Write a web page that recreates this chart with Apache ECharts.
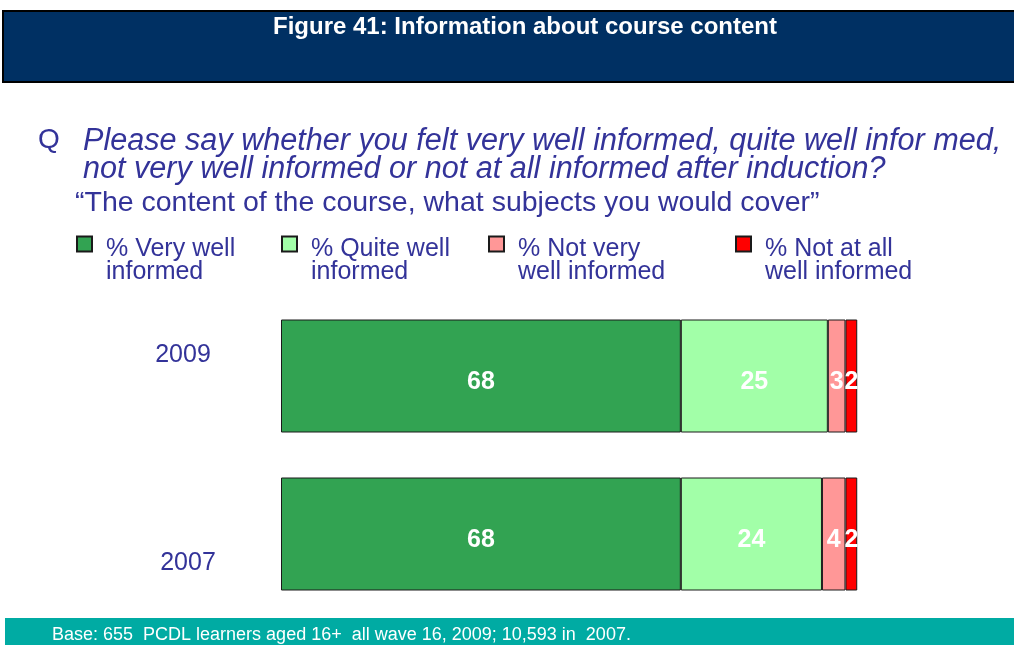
<!DOCTYPE html>
<html>
<head>
<meta charset="utf-8">
<script src="https://cdn.jsdelivr.net/npm/echarts@6/dist/echarts.min.js"></script>
<style>
  html, body { margin: 0; padding: 0; background: #ffffff; }
  #chart { width: 1014px; height: 645px; }
</style>
</head>
<body>
<div id="chart"></div>
<script>
// Survey years, top to bottom
const years = ['2009', '2007'];

// Response categories (stack order, left to right)
const seriesNames = [
  '% Very well informed',
  '% Quite well informed',
  '% Not very well informed',
  '% Not at all well informed'
];
const legendLines = [
  ['% Very well', 'informed'],
  ['% Quite well', 'informed'],
  ['% Not very', 'well informed'],
  ['% Not at all', 'well informed']
];

// Percentages per year, [2009, 2007]
const veryWell = [68, 68];
const quiteWell = [25, 24];
const notVeryWell = [3, 4];
const notAtAll = [2, 2];

const seriesValues = [veryWell, quiteWell, notVeryWell, notAtAll];
const seriesColors = ['#32a352', '#a2ffa8', '#ff9797', '#ff0000'];

const titleText = 'Figure 41: Information about course content';
const questionLines = [
  'Please say whether you felt very well informed, quite well infor med,',
  'not very well informed or not at all informed after induction?'
];
const quoteText = '\u201CThe content of the course, what subjects you would cover\u201D';
const baseText = 'Base: 655  PCDL learners aged 16+  all wave 16, 2009; 10,593 in  2007.';

const textBlue = '#333399';
const fontFamily = '"Liberation Sans", Arial, Helvetica, sans-serif';

const chart = echarts.init(document.getElementById('chart'), null, { renderer: 'canvas' });

const legendLefts = [76, 281, 488, 735];

// Plain text block anchored at its top-left corner
function textAt(x, y, text, font, color, align) {
  return {
    type: 'text',
    x: x,
    y: y,
    style: {
      text: text,
      fill: color,
      font: font,
      align: align || 'left',
      verticalAlign: 'top'
    }
  };
}

const option = {
  backgroundColor: '#ffffff',
  animation: false,
  textStyle: { fontFamily: fontFamily },
  grid: { left: 281, top: 297, width: 588, height: 316, containLabel: false },
  xAxis: {
    type: 'value',
    min: 0,
    max: 100,
    show: false
  },
  yAxis: {
    type: 'category',
    data: years,
    inverse: true,
    axisLine: { show: false },
    axisTick: { show: false },
    axisLabel: { show: false },
    splitLine: { show: false }
  },
  // One legend per item so each sits in its own column; a blank spacer line
  // drops the two text lines so the first one sits level with the swatch.
  legend: seriesNames.map((name, i) => ({
    data: [name],
    left: legendLefts[i],
    top: 216,
    padding: 0,
    icon: 'rect',
    itemWidth: 15,
    itemHeight: 15,
    selectedMode: false,
    formatter: () => '{gap| }\n{t|' + legendLines[i][0] + '}\n{t|' + legendLines[i][1] + '}',
    textStyle: {
      color: textBlue,
      fontSize: 25,
      fontFamily: fontFamily,
      padding: [0, 0, 0, 9],
      rich: {
        gap: { fontSize: 10, lineHeight: 34 },
        t: { fontSize: 25, lineHeight: 23, color: textBlue, fontFamily: fontFamily }
      }
    }
  })),
  series: seriesNames.map((name, i) => ({
    name: name,
    type: 'bar',
    stack: 'total',
    barWidth: 113,
    data: seriesValues[i],
    itemStyle: {
      color: seriesColors[i],
      borderColor: '#1a1a1a',
      borderWidth: 1
    },
    label: {
      show: true,
      position: 'inside',
      offset: [0, 6],
      color: '#ffffff',
      fontWeight: 'bold',
      fontSize: 25,
      fontFamily: fontFamily
    }
  })),
  graphic: [
    {
      type: 'rect',
      shape: { x: 3, y: 11, width: 1014, height: 71 },
      style: { fill: '#003063', stroke: '#000000', lineWidth: 2 }
    },
    {
      type: 'text',
      x: 525,
      y: 27,
      style: {
        text: titleText,
        fill: '#ffffff',
        font: 'bold 24px ' + fontFamily,
        align: 'center',
        verticalAlign: 'middle'
      }
    },
    textAt(38, 126, 'Q', '28px ' + fontFamily, textBlue),
    textAt(83, 126, questionLines[0], 'italic 30.6px ' + fontFamily, textBlue),
    textAt(83, 154, questionLines[1], 'italic 30.6px ' + fontFamily, textBlue),
    textAt(75, 189, quoteText, '28.5px ' + fontFamily, textBlue),
    {
      type: 'text',
      x: 183,
      y: 355,
      style: {
        text: years[0],
        fill: textBlue,
        font: '25px ' + fontFamily,
        align: 'center',
        verticalAlign: 'middle'
      }
    },
    {
      type: 'text',
      x: 188,
      y: 563,
      style: {
        text: years[1],
        fill: textBlue,
        font: '25px ' + fontFamily,
        align: 'center',
        verticalAlign: 'middle'
      }
    },
    {
      type: 'rect',
      shape: { x: 5, y: 618, width: 1012, height: 30 },
      style: { fill: '#00aba3' }
    },
    textAt(52, 626, baseText, '18px ' + fontFamily, '#ffffff')
  ]
};

chart.setOption(option);
</script>
</body>
</html>
